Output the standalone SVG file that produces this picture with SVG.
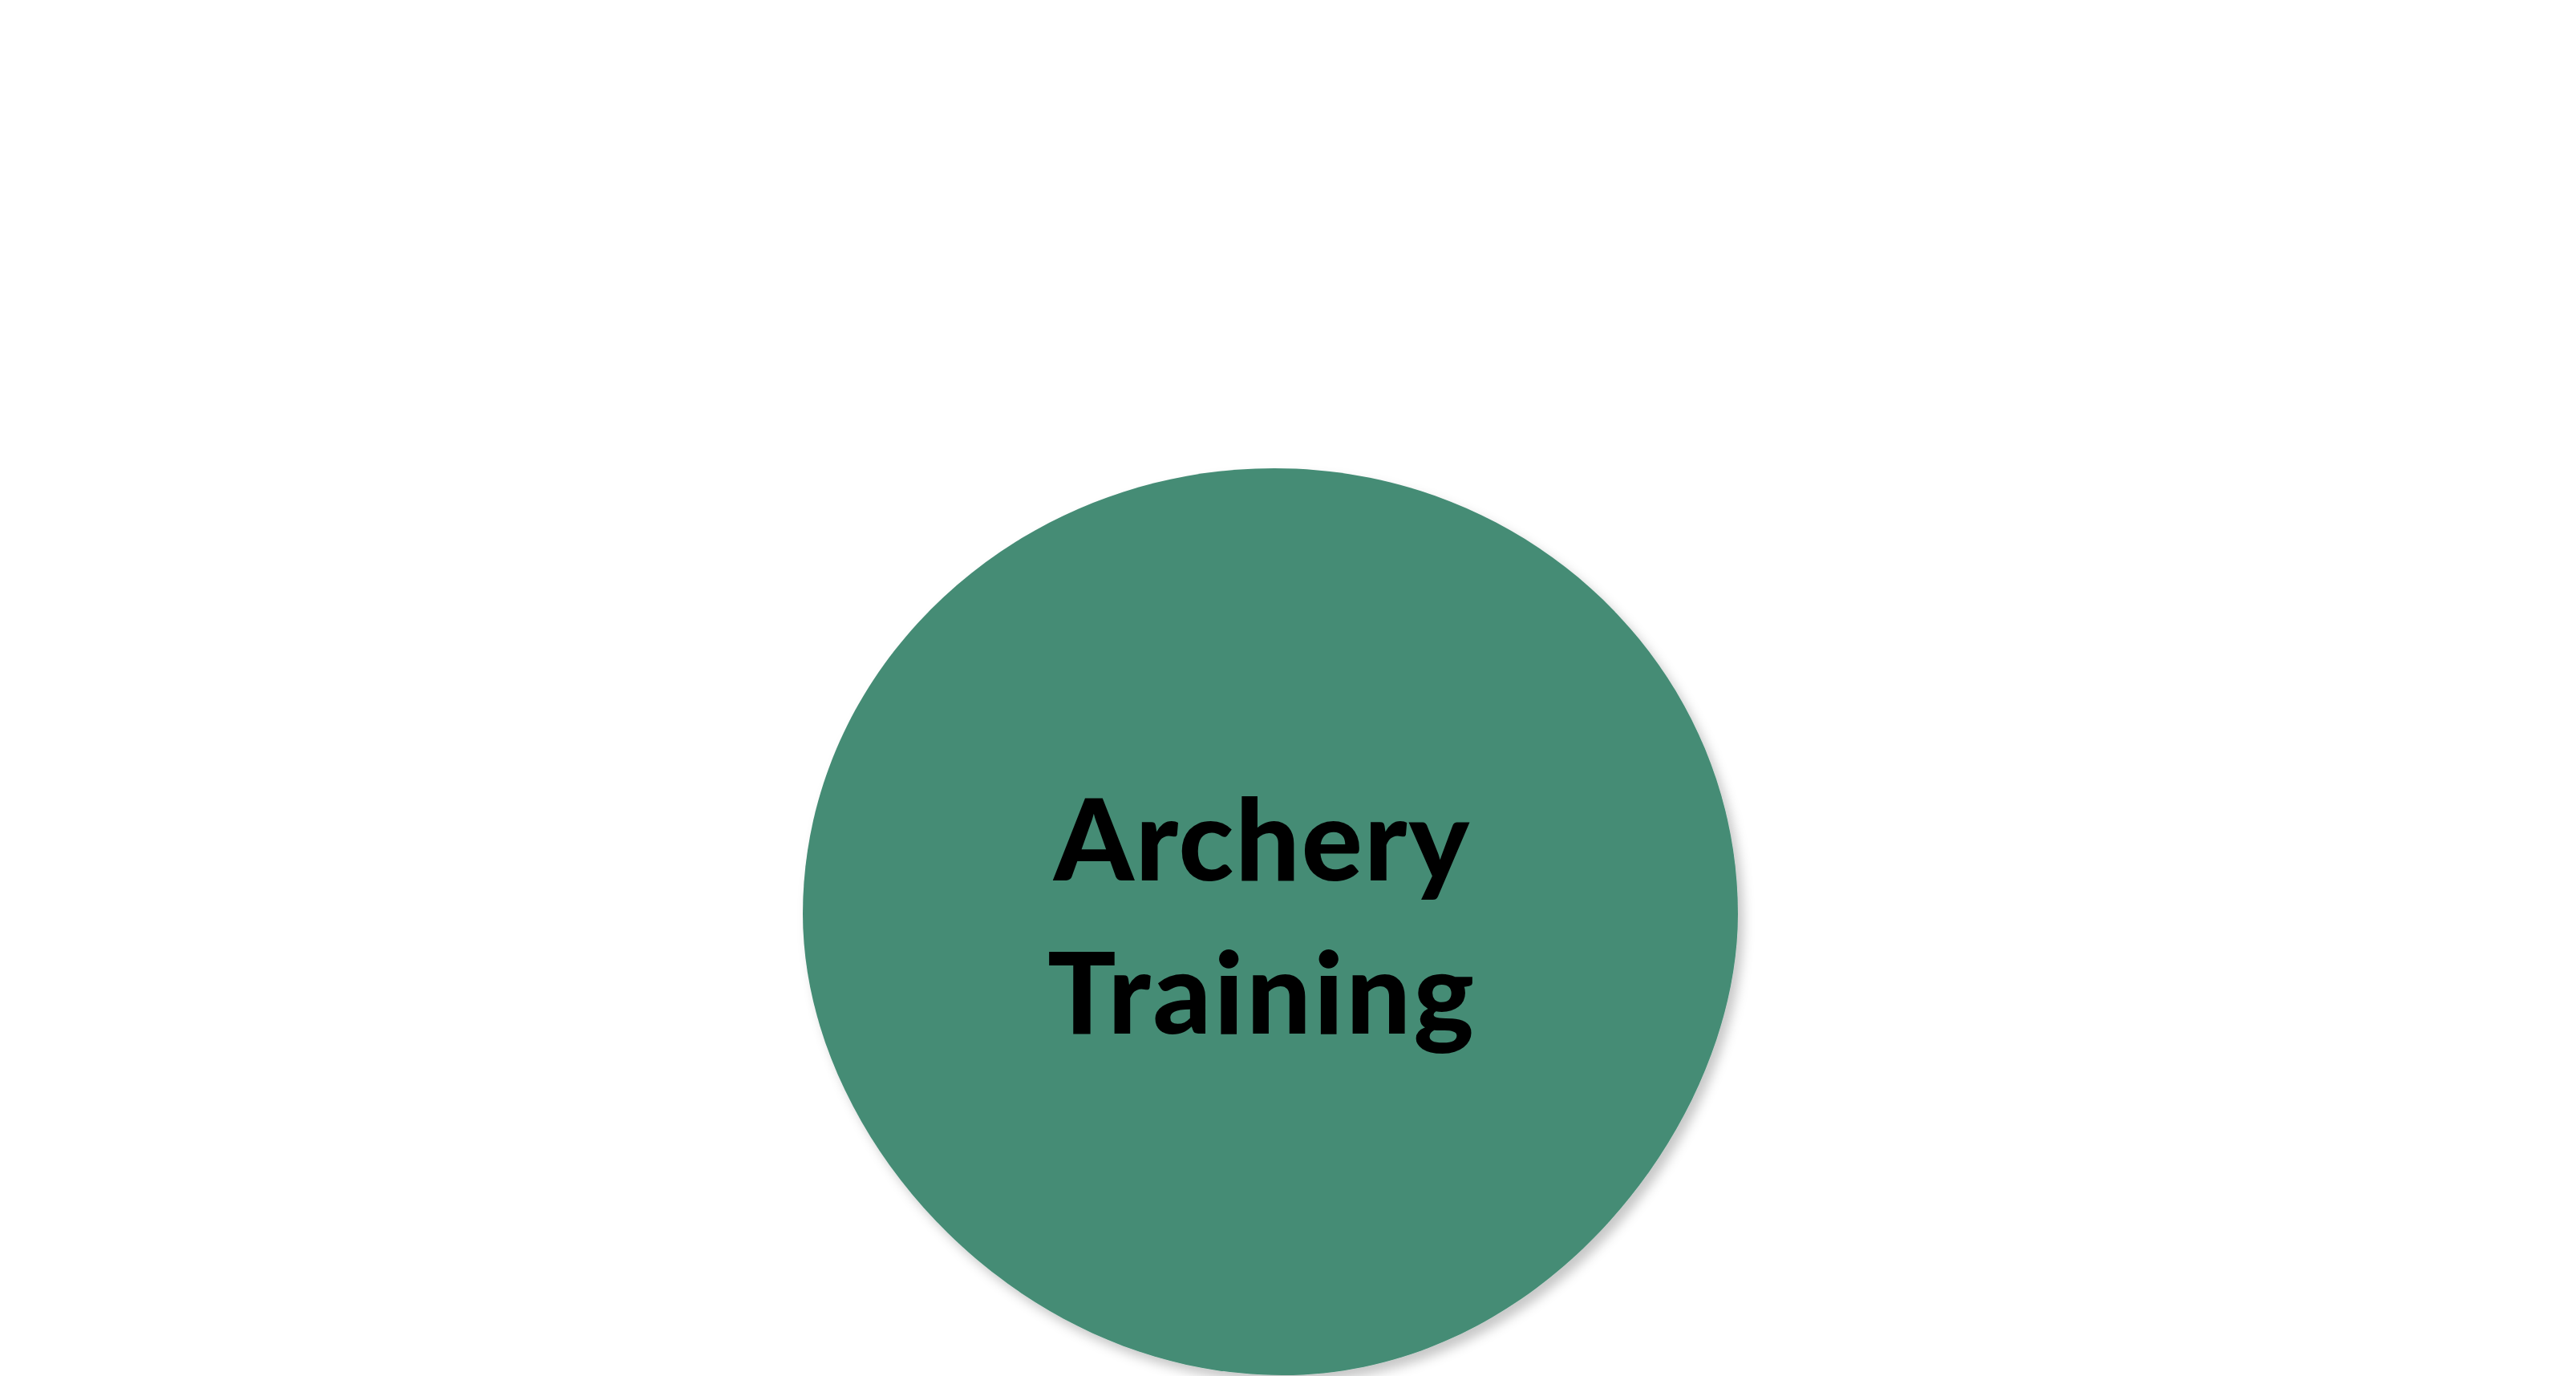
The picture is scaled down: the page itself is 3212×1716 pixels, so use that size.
<svg xmlns="http://www.w3.org/2000/svg" width="3212" height="1716" viewBox="0 0 3212 1716">
  <style>
    .node-shape { fill: #458c75; }
    .node-label { font-family: Lato, "Open Sans", "Liberation Sans", sans-serif; font-weight: 900; font-size: 142px; fill: #000000; text-anchor: middle; }
  </style>
  <defs>
    <filter id="shadow" x="-10%" y="-10%" width="130%" height="130%">
      <feDropShadow dx="7" dy="9" stdDeviation="7" flood-color="#000000" flood-opacity="0.22"/>
    </filter>
  </defs>
  <rect x="0" y="0" width="3212" height="1716" fill="#ffffff"/>
  <g id="node-archery-training">
    <path class="node-shape" filter="url(#shadow)" d="M1589,584 C1908,584 2167,833 2167,1140 C2167,1400 1925,1715 1599,1715 C1270,1715 1001,1420 1001,1140 C1001,830 1270,584 1589,584 Z"/>
    <text class="node-label" x="1573" y="1098" textLength="518" lengthAdjust="spacing">Archery</text>
    <text class="node-label" x="1572" y="1289" textLength="532" lengthAdjust="spacing">Training</text>
  </g>
  <g id="connectors"></g>
</svg>
